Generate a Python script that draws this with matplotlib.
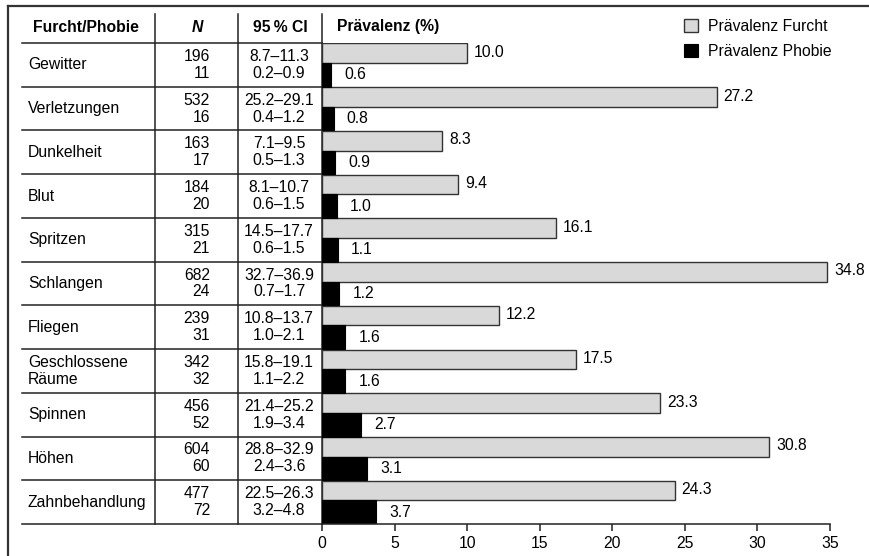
import matplotlib
matplotlib.use("Agg")
import matplotlib.pyplot as plt
import numpy as np

plt.rcParams['font.family'] = ['Liberation Sans', 'DejaVu Sans']

names = ["Gewitter", "Verletzungen", "Dunkelheit", "Blut", "Spritzen", "Schlangen",
         "Fliegen", "Geschlossene\nRäume", "Spinnen", "Höhen", "Zahnbehandlung"]
n_furcht = [196, 532, 163, 184, 315, 682, 239, 342, 456, 604, 477]
n_phobie = [11, 16, 17, 20, 21, 24, 31, 32, 52, 60, 72]
ci_furcht = ["8.7–11.3", "25.2–29.1", "7.1–9.5", "8.1–10.7", "14.5–17.7", "32.7–36.9",
             "10.8–13.7", "15.8–19.1", "21.4–25.2", "28.8–32.9", "22.5–26.3"]
ci_phobie = ["0.2–0.9", "0.4–1.2", "0.5–1.3", "0.6–1.5", "0.6–1.5", "0.7–1.7",
             "1.0–2.1", "1.1–2.2", "1.9–3.4", "2.4–3.6", "3.2–4.8"]
prev_furcht = [10.0, 27.2, 8.3, 9.4, 16.1, 34.8, 12.2, 17.5, 23.3, 30.8, 24.3]
prev_phobie = [0.6, 0.8, 0.9, 1.0, 1.1, 1.2, 1.6, 1.6, 2.7, 3.1, 3.7]

W, H = 869, 556
fs = 11.3
lc = '#222222'

fig = plt.figure(figsize=(W / 100, H / 100), dpi=100)
bg = fig.add_axes([0, 0, 1, 1])
bg.set_xlim(0, W)
bg.set_ylim(H, 0)
bg.axis('off')

top, bottom = 43, 524
x0, x35 = 322, 830
row_h = (bottom - top) / len(names)

ax = fig.add_axes([x0 / W, (H - bottom) / H, (x35 - x0) / W, (bottom - top) / H])
ax.patch.set_alpha(0)

# outer frame (cut off at right and bottom)
bg.plot([8, 8], [6, H], color='#333333', lw=1.6)
bg.plot([8, W], [6, 6], color='#333333', lw=1.6)

# header
bg.text(86, 27, "Furcht/Phobie", fontsize=fs, fontweight='bold', ha='center', va='center')
bg.text(197, 27, "N", fontsize=fs, fontweight='bold', fontstyle='italic', ha='center', va='center')
bg.text(280, 27, "95\u2009% CI", fontsize=fs, fontweight='bold', ha='center', va='center')
bg.text(337, 27, "Prävalenz (%)", fontsize=fs, fontweight='bold', ha='left', va='center')

# table grid
for xv in [155, 238, 322]:
    bg.plot([xv, xv], [14, bottom], color=lc, lw=1.1)
for i in range(len(names) + 1):
    yv = top + i * row_h
    bg.plot([22, x0], [yv, yv], color=lc, lw=1.1)

# table text
for i in range(len(names)):
    yc = top + (i + 0.5) * row_h
    bg.text(28, yc, names[i], fontsize=fs, ha='left', va='center', linespacing=1.1)
    bg.text(210, yc - 8.5, str(n_furcht[i]), fontsize=fs, ha='right', va='center')
    bg.text(210, yc + 8.5, str(n_phobie[i]), fontsize=fs, ha='right', va='center')
    bg.text(279, yc - 8.5, ci_furcht[i], fontsize=fs, ha='center', va='center')
    bg.text(279, yc + 8.5, ci_phobie[i], fontsize=fs, ha='center', va='center')

# bars
rows = np.arange(len(names))
b1 = ax.barh(rows + 0.01, prev_furcht, height=0.45, align='edge',
             color='#d9d9d9', edgecolor='#333333', lw=1.0, label='Prävalenz Furcht')
b2 = ax.barh(rows + 0.46, prev_phobie, height=0.54, align='edge',
             color='black', edgecolor='black', lw=0.8, label='Prävalenz Phobie')

for i in range(len(names)):
    ax.annotate(f"{prev_furcht[i]:.1f}", (prev_furcht[i], i + 0.245), xytext=(5, 1),
                textcoords='offset points', fontsize=fs, ha='left', va='center')
    ax.annotate(f"{prev_phobie[i]:.1f}", (prev_phobie[i], i + 0.73), xytext=(9.5, 0),
                textcoords='offset points', fontsize=fs, ha='left', va='center')

ax.set_xlim(0, 35)
ax.set_ylim(len(names), 0)
ax.set_xticks(np.arange(0, 36, 5))
ax.set_yticks([])
for s in ['top', 'left', 'right']:
    ax.spines[s].set_visible(False)
ax.spines['bottom'].set_color(lc)
ax.spines['bottom'].set_linewidth(1.1)
ax.tick_params(axis='x', direction='out', length=5, width=1.1, color=lc,
               labelsize=fs, pad=4)

leg = ax.legend(handles=[b1, b2], loc='upper left', bbox_to_anchor=(670 / W, 1 - 5 / H),
                bbox_transform=fig.transFigure, frameon=False, fontsize=fs,
                handlelength=0.9, handleheight=0.9, handletextpad=0.6, labelspacing=0.6)

fig.savefig("out.png", dpi=100)
